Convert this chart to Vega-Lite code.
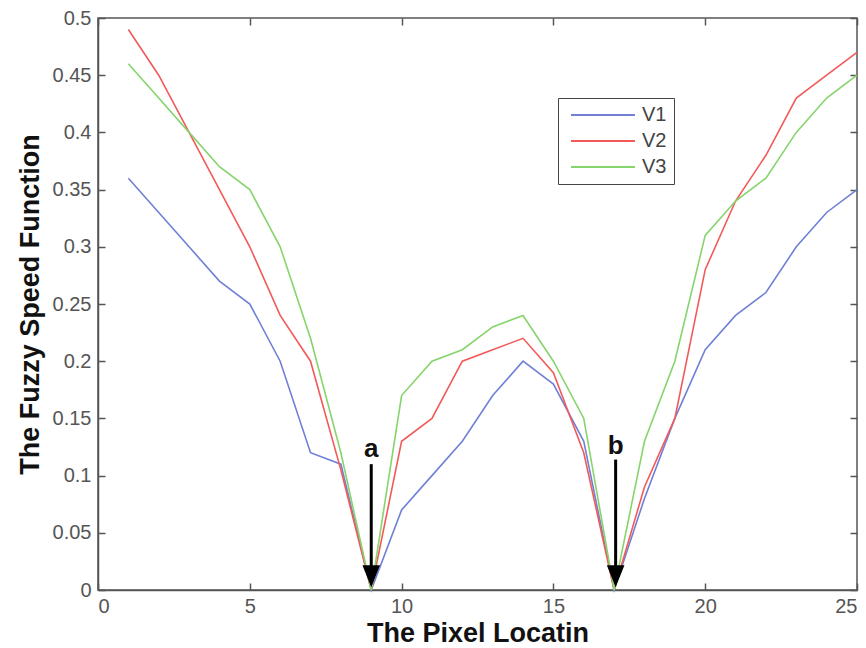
{
  "$schema": "https://vega.github.io/schema/vega-lite/v6.json",
  "autosize": "none",
  "width": 759,
  "height": 572,
  "padding": {"left": 98, "top": 18, "right": 9, "bottom": 58},
  "background": "white",
  "config": {
    "view": {"stroke": "#555", "strokeWidth": 1.5},
    "axis": {
      "labelFont": "Liberation Sans",
      "labelFontSize": 20,
      "labelColor": "#555",
      "titleFont": "Liberation Sans",
      "titleFontSize": 27,
      "titleFontWeight": "bold",
      "titleColor": "#111",
      "domainColor": "#555",
      "domainWidth": 1.5,
      "tickColor": "#555",
      "tickWidth": 1.5,
      "grid": false
    }
  },
  "datasets": {
    "series": [
      {"x": 1, "s": "V1", "v": 0.36}, {"x": 2, "s": "V1", "v": 0.33}, {"x": 3, "s": "V1", "v": 0.30}, {"x": 4, "s": "V1", "v": 0.27}, {"x": 5, "s": "V1", "v": 0.25},
      {"x": 6, "s": "V1", "v": 0.20}, {"x": 7, "s": "V1", "v": 0.12}, {"x": 8, "s": "V1", "v": 0.11}, {"x": 9, "s": "V1", "v": 0.0}, {"x": 10, "s": "V1", "v": 0.07},
      {"x": 11, "s": "V1", "v": 0.10}, {"x": 12, "s": "V1", "v": 0.13}, {"x": 13, "s": "V1", "v": 0.17}, {"x": 14, "s": "V1", "v": 0.20}, {"x": 15, "s": "V1", "v": 0.18},
      {"x": 16, "s": "V1", "v": 0.13}, {"x": 17, "s": "V1", "v": 0.0}, {"x": 18, "s": "V1", "v": 0.08}, {"x": 19, "s": "V1", "v": 0.15}, {"x": 20, "s": "V1", "v": 0.21},
      {"x": 21, "s": "V1", "v": 0.24}, {"x": 22, "s": "V1", "v": 0.26}, {"x": 23, "s": "V1", "v": 0.30}, {"x": 24, "s": "V1", "v": 0.33}, {"x": 25, "s": "V1", "v": 0.35},
      {"x": 1, "s": "V2", "v": 0.49}, {"x": 2, "s": "V2", "v": 0.45}, {"x": 3, "s": "V2", "v": 0.40}, {"x": 4, "s": "V2", "v": 0.35}, {"x": 5, "s": "V2", "v": 0.30},
      {"x": 6, "s": "V2", "v": 0.24}, {"x": 7, "s": "V2", "v": 0.20}, {"x": 8, "s": "V2", "v": 0.105}, {"x": 9, "s": "V2", "v": 0.0}, {"x": 10, "s": "V2", "v": 0.13},
      {"x": 11, "s": "V2", "v": 0.15}, {"x": 12, "s": "V2", "v": 0.20}, {"x": 13, "s": "V2", "v": 0.21}, {"x": 14, "s": "V2", "v": 0.22}, {"x": 15, "s": "V2", "v": 0.19},
      {"x": 16, "s": "V2", "v": 0.12}, {"x": 17, "s": "V2", "v": 0.0}, {"x": 18, "s": "V2", "v": 0.09}, {"x": 19, "s": "V2", "v": 0.15}, {"x": 20, "s": "V2", "v": 0.28},
      {"x": 21, "s": "V2", "v": 0.34}, {"x": 22, "s": "V2", "v": 0.38}, {"x": 23, "s": "V2", "v": 0.43}, {"x": 24, "s": "V2", "v": 0.45}, {"x": 25, "s": "V2", "v": 0.47},
      {"x": 1, "s": "V3", "v": 0.46}, {"x": 2, "s": "V3", "v": 0.43}, {"x": 3, "s": "V3", "v": 0.40}, {"x": 4, "s": "V3", "v": 0.37}, {"x": 5, "s": "V3", "v": 0.35},
      {"x": 6, "s": "V3", "v": 0.30}, {"x": 7, "s": "V3", "v": 0.22}, {"x": 8, "s": "V3", "v": 0.12}, {"x": 9, "s": "V3", "v": 0.0}, {"x": 10, "s": "V3", "v": 0.17},
      {"x": 11, "s": "V3", "v": 0.20}, {"x": 12, "s": "V3", "v": 0.21}, {"x": 13, "s": "V3", "v": 0.23}, {"x": 14, "s": "V3", "v": 0.24}, {"x": 15, "s": "V3", "v": 0.20},
      {"x": 16, "s": "V3", "v": 0.15}, {"x": 17, "s": "V3", "v": 0.0}, {"x": 18, "s": "V3", "v": 0.13}, {"x": 19, "s": "V3", "v": 0.20}, {"x": 20, "s": "V3", "v": 0.31},
      {"x": 21, "s": "V3", "v": 0.34}, {"x": 22, "s": "V3", "v": 0.36}, {"x": 23, "s": "V3", "v": 0.40}, {"x": 24, "s": "V3", "v": 0.43}, {"x": 25, "s": "V3", "v": 0.45}
    ],
    "arrows": [
      {"x": 9.0, "label": "a", "top": 0.11, "shaftEnd": 0.02, "head": 0.012, "ty": 0.116},
      {"x": 17.05, "label": "b", "top": 0.114, "shaftEnd": 0.02, "head": 0.012, "ty": 0.119}
    ]
  },
  "layer": [
    {
      "data": {"name": "series"},
      "mark": {"type": "line", "strokeWidth": 1.6},
      "encoding": {
        "x": {"field": "x", "type": "quantitative", "scale": {"domain": [0, 25], "nice": false},
              "axis": {"orient": "bottom", "title": "The Pixel Locatin", "values": [0, 5, 10, 15, 20, 25], "tickSize": -7, "labelPadding": 13, "titlePadding": 4}},
        "y": {"field": "v", "type": "quantitative", "scale": {"domain": [0, 0.5], "nice": false},
              "axis": {"orient": "left", "title": "The Fuzzy Speed Function", "format": "~g", "values": [0, 0.05, 0.1, 0.15, 0.2, 0.25, 0.3, 0.35, 0.4, 0.45, 0.5], "tickSize": -7, "labelPadding": 14, "titlePadding": 8}},
        "color": {"field": "s", "type": "nominal",
                  "scale": {"domain": ["V1", "V2", "V3"], "range": ["#6f80d6", "#f25a5a", "#86d46c"]},
                  "legend": {"orient": "none", "legendX": 460, "legendY": 80, "title": null,
                             "symbolType": "M-1,0H8.14", "symbolSize": 196, "symbolStrokeWidth": 2, "symbolOffset": 3,
                             "labelFont": "Liberation Sans", "labelFontSize": 20, "labelColor": "#444", "labelOffset": 54,
                             "strokeColor": "#444", "fillColor": "white", "padding": 7, "rowPadding": 6}}
      }
    },
    {
      "data": {"name": "arrows"},
      "mark": {"type": "rule", "color": "black", "strokeWidth": 3},
      "encoding": {
        "x": {"field": "x", "type": "quantitative",
              "axis": {"orient": "top", "title": null, "labels": false, "domain": false, "values": [0, 5, 10, 15, 20, 25], "tickSize": -7}},
        "y": {"field": "top", "type": "quantitative",
              "axis": {"orient": "right", "title": null, "labels": false, "domain": false, "values": [0, 0.05, 0.1, 0.15, 0.2, 0.25, 0.3, 0.35, 0.4, 0.45, 0.5], "tickSize": -7}},
        "y2": {"field": "shaftEnd"}
      }
    },
    {
      "data": {"name": "arrows"},
      "mark": {"type": "point", "shape": "M-0.8,-1L0.8,-1L0,1Z", "filled": true, "color": "black", "opacity": 1, "size": 484},
      "encoding": {
        "x": {"field": "x", "type": "quantitative", "axis": null},
        "y": {"field": "head", "type": "quantitative", "axis": null}
      }
    },
    {
      "data": {"name": "arrows"},
      "mark": {"type": "text", "font": "Liberation Sans", "fontSize": 26, "fontWeight": "bold", "color": "#111", "baseline": "alphabetic", "align": "center"},
      "encoding": {
        "x": {"field": "x", "type": "quantitative", "axis": null},
        "y": {"field": "ty", "type": "quantitative", "axis": null},
        "text": {"field": "label"}
      }
    }
  ],
  "resolve": {"axis": {"x": "independent", "y": "independent"}}
}
